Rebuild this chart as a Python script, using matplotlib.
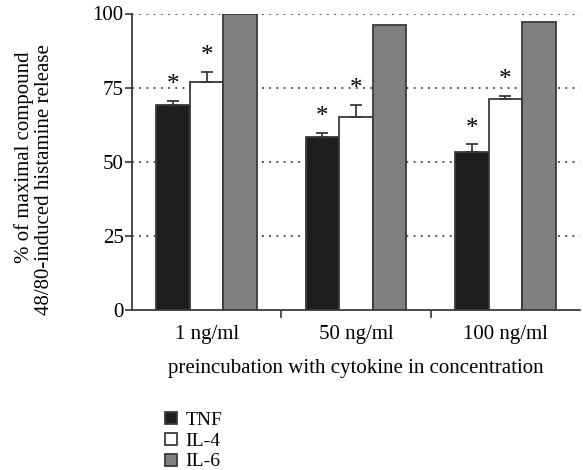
import matplotlib
matplotlib.use("Agg")
import matplotlib.pyplot as plt
import numpy as np
from matplotlib.lines import Line2D

plt.rcParams['font.family'] = ['Liberation Serif', 'DejaVu Serif']

categories = ["1 ng/ml", "50 ng/ml", "100 ng/ml"]
series = ["TNF", "IL-4", "IL-6"]
tnf = [69, 58.3, 53.2]
tnf_err = [1.6, 1.5, 2.8]
il4 = [77, 65.2, 71]
il4_err = [3.4, 4.0, 1.3]
il6 = [100, 96, 97]
il6_err = [0, 0, 0]
significant = [[True, True, True], [True, True, True], [False, False, False]]
colors = ["#1e1e1e", "#ffffff", "#808080"]
yticks = [0, 25, 50, 75, 100]
ylabel_lines = ["% of maximal compound", "48/80-induced histamine release"]
xlabel = "preincubation with cytokine in concentration"

W, H = 583, 470
fig = plt.figure(figsize=(W/100, H/100), dpi=100)
ax_l, ax_r, ax_b, ax_t = 132, 580, 310, 13.5
ax = fig.add_axes([ax_l/W, 1-ax_b/H, (ax_r-ax_l)/W, (ax_b-ax_t)/H])
ax_h = ax_b - ax_t
ax_w = ax_r - ax_l

x = np.arange(len(categories))
w = 0.225
vals = [tnf, il4, il6]
errs = [tnf_err, il4_err, il6_err]
edge = "#3a3a3a"
for i, (v, e) in enumerate(zip(vals, errs)):
    xs = x + (i - 1) * w
    ax.bar(xs, v, w, color=colors[i], edgecolor=edge, linewidth=1.3, zorder=3)
    if any(e):
        ax.errorbar(xs, v, yerr=[np.zeros(len(e)), e], fmt="none", ecolor=edge,
                    elinewidth=1.3, capsize=4, capthick=1.3, zorder=4)
    for j in range(len(categories)):
        if significant[i][j]:
            ax.text(xs[j], v[j] + e[j] + 1.5, "*", ha="center", va="bottom",
                    fontsize=18, zorder=5)

ax.set_xlim(-0.5, 2.5)
ax.set_ylim(0, 100)
ax.set_yticks(yticks)
ax.set_yticklabels([str(t) for t in yticks], fontsize=15)
ax.set_xticks(x)
ax.set_xticklabels(categories, fontsize=15)
ax.tick_params(axis="x", length=0, pad=11)
ax.set_xticks([0.5, 1.5], minor=True)
ax.tick_params(axis="x", which="minor", length=6, width=1.2, color=edge)
ax.tick_params(axis="y", length=5, width=1.2, color=edge, pad=1)
for t in yticks[1:]:
    ax.axhline(t, color="#444444", linestyle=(0, (1, 3)), linewidth=1.3, zorder=1)
ax.spines["top"].set_visible(False)
ax.spines["right"].set_visible(False)
for s in ("left", "bottom"):
    ax.spines[s].set_linewidth(1.3)
    ax.spines[s].set_color(edge)

ax.set_xlabel(xlabel, fontsize=15)
ax.xaxis.label.set_va("center")
ax.xaxis.set_label_coords(0.5, -(368 - ax_b) / ax_h)

fig.text(24/W, 1-157/H, ylabel_lines[0], rotation=90, ha="center", va="center", fontsize=15)
fig.text(45/W, 1-180/H, ylabel_lines[1], rotation=90, ha="center", va="center", fontsize=15)

handles = [Line2D([0], [0], marker="s", linestyle="none", markersize=8.5,
                  markerfacecolor=c, markeredgecolor=edge, markeredgewidth=1.3)
           for c in colors]
fig.legend(handles, series, loc="upper left", bbox_to_anchor=(162/W, 1-411/H),
           frameon=False, fontsize=14, handlelength=0.9, handletextpad=0.3,
           labelspacing=0.17, borderaxespad=0, borderpad=0)

fig.savefig("out.png", dpi=100)
